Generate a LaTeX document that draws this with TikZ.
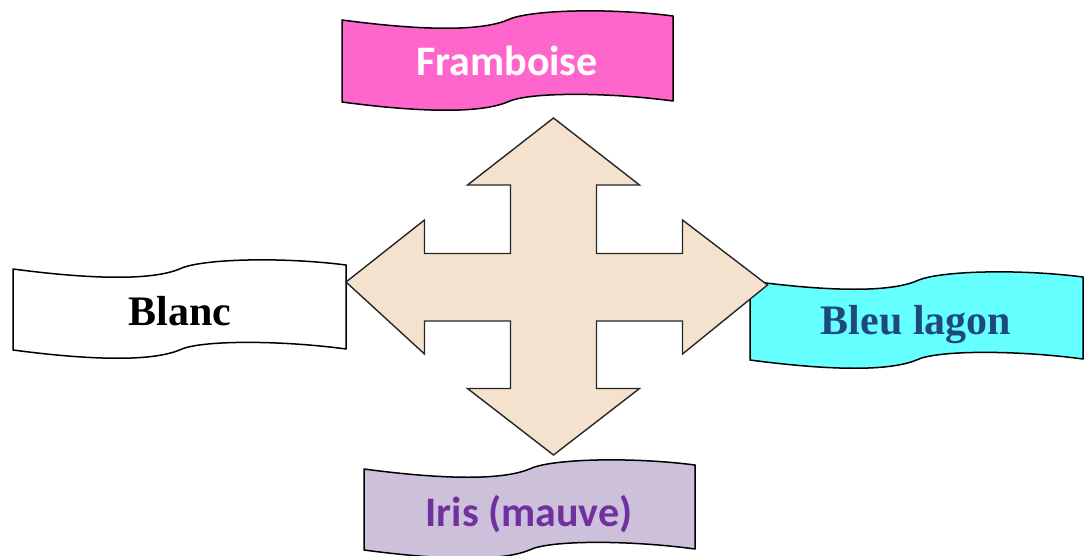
\documentclass[tikz,border=0pt]{standalone}
\usepackage{fontspec}
\newfontfamily\carlito{Carlito}
\newfontfamily\libserif{Liberation Serif}
\definecolor{framboise}{HTML}{FF66CC}
\definecolor{lagon}{HTML}{66FFFF}
\definecolor{iris}{HTML}{CCC0DA}
\definecolor{iristext}{HTML}{7030A0}
\definecolor{lagontext}{HTML}{1F497D}
\definecolor{arrowfill}{HTML}{F4E2CE}
% #1,#2 top-left corner, #3 width, #4 height, #5 fill
\newcommand{\wavebanner}[5]{%
  \filldraw[banner,fill=#5] (#1,#2)
    .. controls ({#1+0.25*#3},{#2+11}) and ({#1+0.42*#3},{#2+11}) .. ({#1+0.5*#3},{#2})
    .. controls ({#1+0.56*#3},{#2-10}) and ({#1+0.8*#3},{#2-12.5}) .. ({#1+#3},{#2-4})
    -- ({#1+#3},{#2+#4-1})
    .. controls ({#1+0.8*#3},{#2+#4-10}) and ({#1+0.56*#3},{#2+#4-10}) .. ({#1+0.5*#3},{#2+#4})
    .. controls ({#1+0.42*#3},{#2+#4+11}) and ({#1+0.25*#3},{#2+#4+11}) .. (#1,{#2+#4})
    -- cycle;}
\tikzset{
  banner/.style={draw=black,line width=1.5pt,line join=round},
  sanslabel/.style={font=\carlito\bfseries\fontsize{42}{50}\selectfont,anchor=base},
  seriflabel/.style={font=\libserif\bfseries\fontsize{42}{50}\selectfont,anchor=base},
  cross/.style={draw=black!85,fill=arrowfill,line width=1.4pt,line join=miter}
}
\begin{document}
\begin{tikzpicture}[x=1pt,y=-1pt]
\useasboundingbox (0,0) rectangle (1091,556);
% banners
\wavebanner{342}{20}{331}{82}{framboise}
\wavebanner{13}{269}{333}{81}{white}
\wavebanner{750}{281}{333}{79}{lagon}
\wavebanner{364}{469}{331}{81}{iris}
% labels
\node[sanslabel,text=white] (framboise) at (507,76) {Framboise};
\node[seriflabel,text=black] (blanc) at (180,325) {Blanc};
\node[seriflabel,text=lagontext] (lagon) at (916,334) {Bleu lagon};
\node[sanslabel,text=iristext] (iris) at (529,526) {Iris (mauve)};
% four-way arrow
\draw[cross] (553.5,118) -- (639.5,185) -- (596.5,185) -- (596.5,253.5)
  -- (682.5,253.5) -- (682.5,220) -- (767.5,285) -- (682.5,354) -- (682.5,321)
  -- (596.5,321) -- (596.5,388.5) -- (639.5,388.5) -- (553.5,455)
  -- (467.5,388.5) -- (510.5,388.5) -- (510.5,321) -- (424.5,321)
  -- (424.5,354) -- (346,282) -- (424.5,220) -- (424.5,253.5)
  -- (510.5,253.5) -- (510.5,185) -- (467.5,185) -- cycle;
\end{tikzpicture}
\end{document}
